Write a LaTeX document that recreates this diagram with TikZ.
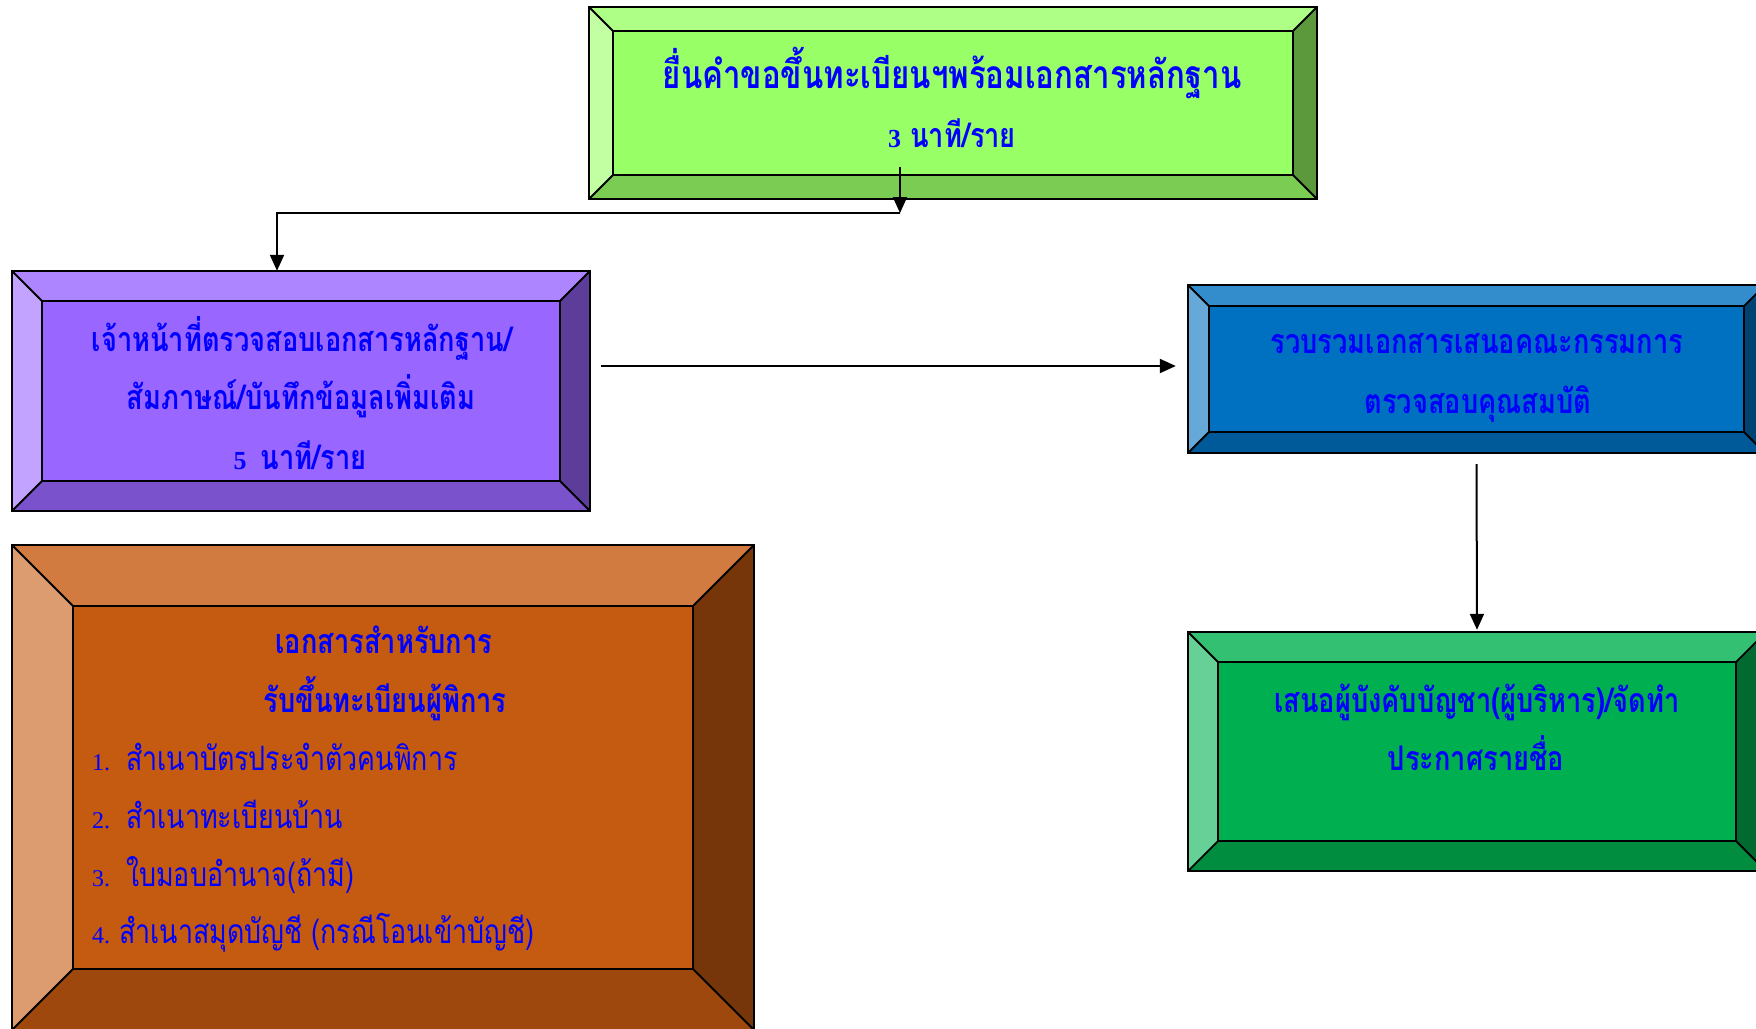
\documentclass[tikz,border=0pt]{standalone}
\usepackage{fontspec}
\usetikzlibrary{arrows.meta,fit}
\newfontfamily\thai[Script=Thai,FakeStretch=0.8]{Loma}
\newfontfamily\lat{Liberation Serif}
\definecolor{txtblue}{HTML}{0000FF}
\definecolor{limeface}{HTML}{99FF66}
\definecolor{violetface}{HTML}{9966FF}
\definecolor{blueface}{HTML}{0070C0}
\definecolor{greenface}{HTML}{00B050}
\definecolor{brownface}{HTML}{C55A11}

% bevelled panel: #1 name, (#2,#3) top-left, (#4,#5) bottom-right, #6 bevel depth, #7 face colour
\newcommand\bevelbox[7]{%
  \fill[#7!80!white] (#2,#3) -- (#4,#3) -- ({#4-#6},{#3+#6}) -- ({#2+#6},{#3+#6}) -- cycle;
  \fill[#7!60!white] (#2,#3) -- ({#2+#6},{#3+#6}) -- ({#2+#6},{#5-#6}) -- (#2,#5) -- cycle;
  \fill[#7!60!black] (#4,#3) -- (#4,#5) -- ({#4-#6},{#5-#6}) -- ({#4-#6},{#3+#6}) -- cycle;
  \fill[#7!80!black] (#2,#5) -- (#4,#5) -- ({#4-#6},{#5-#6}) -- ({#2+#6},{#5-#6}) -- cycle;
  \fill[#7] ({#2+#6},{#3+#6}) rectangle ({#4-#6},{#5-#6});
  \draw[edge] (#2,#3) rectangle (#4,#5);
  \draw[edge] ({#2+#6},{#3+#6}) rectangle ({#4-#6},{#5-#6});
  \draw[edge] (#2,#3) -- ({#2+#6},{#3+#6});
  \draw[edge] (#4,#3) -- ({#4-#6},{#3+#6});
  \draw[edge] (#2,#5) -- ({#2+#6},{#5-#6});
  \draw[edge] (#4,#5) -- ({#4-#6},{#5-#6});
  \coordinate (#1-nw) at (#2,#3);
  \coordinate (#1-se) at (#4,#5);
  \node[fit=(#1-nw)(#1-se), inner sep=0pt] (#1) {};
}
\newcommand\numfont{\lat\bfseries\fontsize{26}{28}\selectfont}
\newcommand\itemnum{\lat\fontsize{24}{26}\selectfont}

\begin{document}
\begin{tikzpicture}[x=1pt,y=-1pt,
  edge/.style={black, line width=1.8pt, line join=miter},
  arr/.style={-{Triangle[width=14pt,length=16pt]}, line width=2pt, black},
  bigline/.style={text=txtblue, inner sep=0pt, anchor=base, font=\thai\bfseries\fontsize{39}{43}\selectfont},
  line/.style={text=txtblue, inner sep=0pt, anchor=base, font=\thai\bfseries\fontsize{34}{38}\selectfont},
  item/.style={text=txtblue, inner sep=0pt, anchor=base west, font=\thai\fontsize{33.5}{38}\selectfont},
]
\useasboundingbox (0,0) rectangle (1756,1028);
\clip (0,0) rectangle (1756,1028);

% panels
\bevelbox{top}{589}{7}{1317}{199}{24}{limeface}
\bevelbox{purple}{12}{271}{590}{511}{30}{violetface}
\bevelbox{blue}{1188}{285}{1765}{453}{21}{blueface}
\bevelbox{green}{1188}{632}{1766}{871}{30}{greenface}
\bevelbox{brown}{12}{545}{754}{1030}{61}{brownface}

% texts of the first step
\node[bigline] (t1) at (952,88) {ยื่นคำขอขึ้นทะเบียนฯพร้อมเอกสารหลักฐาน};
\node[line] (t2) at (952,147) {{\numfont 3} นาที/ราย};

% texts of the checking step
\node[line] (p1) at (302,351) {เจ้าหน้าที่ตรวจสอบเอกสารหลักฐาน/};
\node[line] (p2) at (301,409) {สัมภาษณ์/บันทึกข้อมูลเพิ่มเติม};
\node[line] (p3) at (300,469) {{\numfont 5}\hspace{14pt}นาที/ราย};

% texts of the committee step
\node[line] (b1) at (1477,353) {รวบรวมเอกสารเสนอคณะกรรมการ};
\node[line] (b2) at (1478,413) {ตรวจสอบคุณสมบัติ};

% texts of the announcement step
\node[line] (g1) at (1477,712) {เสนอผู้บังคับบัญชา(ผู้บริหาร)/จัดทำ};
\node[line] (g2) at (1476,770) {ประกาศรายชื่อ};

% documents list
\node[line] (d1) at (384,653) {เอกสารสำหรับการ};
\node[line] (d2) at (385,712) {รับขึ้นทะเบียนผู้พิการ};
\node[item] (i1) at (92,770) {\makebox[34pt][l]{\itemnum 1.}สำเนาบัตรประจำตัวคนพิการ};
\node[item] (i2) at (92,828) {\makebox[34pt][l]{\itemnum 2.}สำเนาทะเบียนบ้าน};
\node[item] (i3) at (92,886) {\makebox[34pt][l]{\itemnum 3.}ใบมอบอำนาจ(ถ้ามี)};
\node[item] (i4) at (92,943) {\makebox[27pt][l]{\itemnum 4.}สำเนาสมุดบัญชี (กรณีโอนเข้าบัญชี)};

% connectors
\coordinate (split) at (900,213);
\draw[arr] ([yshift=32pt]top.south -| split) -- (split);
\draw[arr] (split) -| ([xshift=-24pt]purple.north);
\draw[arr] ([xshift=11pt,yshift=3pt]purple.east |- blue.west) -- ([xshift=-12pt,yshift=3pt]blue.west);
\draw[arr] ([yshift=-11pt]blue.south) -- ([yshift=2pt]green.north);
\end{tikzpicture}
\end{document}
